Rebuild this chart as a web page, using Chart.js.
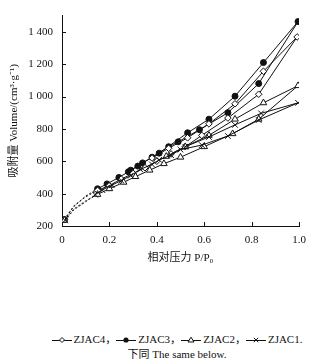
<!DOCTYPE html>
<html>
<head>
<meta charset="utf-8">
<script src="https://cdn.jsdelivr.net/npm/chart.js@4"></script>
<style>
  body { margin: 0; background: #fff; width: 320px; height: 363px; position: relative; overflow: hidden; }
  #wrap { position: absolute; left: 0; top: 0; width: 320px; height: 268px; }
  .note { position: absolute; left: 0; width: 354px; text-align: center; color: #111;
    font-family: "Liberation Serif", "Noto Sans CJK SC", serif; font-size: 11px; white-space: nowrap; }
  .note svg { vertical-align: -1px; margin-right: 2px; }
</style>
</head>
<body>
<div id="wrap"><canvas id="chartIso"></canvas></div>
<div class="note" id="legend" style="top:330px;"></div>
<div class="note" style="top:345px;">下同 The same below.</div>
<script>
// axis ticks
const xTicks = [0, 0.2, 0.4, 0.6, 0.8, 1.0];
const yTicks = [200, 400, 600, 800, 1000, 1200, 1400];

// ZJAC4 (open diamonds)
const zjac4AdsP = [0.01, 0.05, 0.10, 0.15, 0.20, 0.25, 0.30, 0.35, 0.40, 0.46, 0.52, 0.59, 0.70, 0.83, 0.992];
const zjac4AdsV = [240, 325, 380, 420, 450, 490, 525, 560, 600, 645, 690, 760, 867, 1014, 1368];
const zjac4DesP = [0.85, 0.73, 0.62, 0.53, 0.45, 0.38];
const zjac4DesV = [1156, 955, 831, 745, 680, 620];

// ZJAC3 (filled circles)
const zjac3AdsP = [0.01, 0.05, 0.10, 0.15, 0.19, 0.24, 0.28, 0.32, 0.38, 0.45, 0.49, 0.58, 0.70, 0.83, 0.996];
const zjac3AdsV = [240, 320, 385, 430, 460, 500, 535, 570, 625, 690, 720, 795, 900, 1080, 1463];
const zjac3DesP = [0.85, 0.73, 0.62, 0.53, 0.41, 0.34, 0.29];
const zjac3DesV = [1210, 1002, 860, 776, 650, 590, 545];

// ZJAC2 (open triangles)
const zjac2AdsP = [0.01, 0.05, 0.10, 0.15, 0.20, 0.26, 0.31, 0.37, 0.43, 0.50, 0.60, 0.72, 0.83, 0.996];
const zjac2AdsV = [235, 305, 355, 395, 430, 470, 505, 545, 585, 625, 690, 770, 860, 1067];
const zjac2DesP = [0.85, 0.73, 0.62, 0.52, 0.44];
const zjac2DesV = [961, 860, 760, 690, 630];

// ZJAC1 (crosses)
const zjac1AdsP = [0.013, 0.05, 0.10, 0.14, 0.17, 0.21, 0.25, 0.29, 0.33, 0.38, 0.41, 0.46, 0.50, 0.59, 0.70, 0.83, 0.996];
const zjac1AdsV = [235, 300, 350, 393, 422, 452, 481, 511, 550, 580, 609, 638, 672, 700, 756, 855, 961];
const zjac1DesP = [0.84, 0.73, 0.62, 0.52];
const zjac1DesV = [896, 825, 750, 690];

// legend order as printed under the figure
const legendNames = ["ZJAC4", "ZJAC3", "ZJAC2", "ZJAC1"];

const FONT = "'Liberation Serif', 'Noto Sans CJK SC', serif";

function loop(adsP, adsV, desP, desV) {
  let pts = [];
  adsP.forEach((p, i) => pts.push({ x: p, y: adsV[i] }));
  desP.forEach((p, i) => pts.push({ x: p, y: desV[i] }));
  return pts;
}

function makeSet(label, pts, style, fill, r) {
  return {
    label: label,
    data: pts,
    showLine: true,
    borderColor: "#111",
    borderWidth: 1,
    pointStyle: style,
    pointBackgroundColor: fill,
    pointBorderColor: "#111",
    pointBorderWidth: 1,
    pointRadius: (ctx) => {
      const p = ctx.raw;
      if (p && p.x > 0.02 && p.x < 0.13) return 0;
      return r;
    },
    segment: {
      borderDash: (ctx) => (ctx.p0.parsed.x < 0.13 ? [2, 2] : undefined),
    },
  };
}

// small key drawings for the printed legend line
const keyMarks = {
  ZJAC4: '<path d="M10 1.5 L12.5 4 L10 6.5 L7.5 4 Z" fill="#fff" stroke="#111"/>',
  ZJAC3: '<circle cx="10" cy="4" r="2.6" fill="#111"/>',
  ZJAC2: '<path d="M10 1.2 L13 6 L7 6 Z" fill="#fff" stroke="#111"/>',
  ZJAC1: '<path d="M7.8 1.8 L12.2 6.2 M12.2 1.8 L7.8 6.2" stroke="#111"/>',
};
const legendEl = document.getElementById("legend");
legendEl.innerHTML = legendNames
  .map((name, i) => {
    const sep = i < legendNames.length - 1 ? "，" : ".";
    return (
      '<svg width="20" height="8"><line x1="0" y1="4.5" x2="20" y2="4.5" stroke="#111"/>' +
      keyMarks[name] + "</svg>" + name + sep
    );
  })
  .join("");

const inwardTicks = {
  id: "inwardTicks",
  afterDraw: (chart) => {
    const { ctx, chartArea, scales } = chart;
    ctx.save();
    ctx.strokeStyle = "#111";
    ctx.lineWidth = 1;
    ctx.beginPath();
    scales.x.ticks.forEach((t) => {
      const px = Math.round(scales.x.getPixelForValue(t.value)) + 0.5;
      ctx.moveTo(px, chartArea.bottom);
      ctx.lineTo(px, chartArea.bottom - 4);
    });
    scales.y.ticks.forEach((t) => {
      const py = Math.round(scales.y.getPixelForValue(t.value)) + 0.5;
      ctx.moveTo(chartArea.left, py);
      ctx.lineTo(chartArea.left + 4, py);
    });
    ctx.stroke();
    ctx.restore();
  },
};

const ctx = document.getElementById("chartIso");
new Chart(ctx, {
  type: "scatter",
  data: {
    datasets: [
      makeSet("ZJAC1", loop(zjac1AdsP, zjac1AdsV, zjac1DesP, zjac1DesV), "crossRot", "#fff", 4),
      makeSet("ZJAC2", loop(zjac2AdsP, zjac2AdsV, zjac2DesP, zjac2DesV), "triangle", "#fff", 3.8),
      makeSet("ZJAC4", loop(zjac4AdsP, zjac4AdsV, zjac4DesP, zjac4DesV), "rectRot", "#fff", 3.3),
      makeSet("ZJAC3", loop(zjac3AdsP, zjac3AdsV, zjac3DesP, zjac3DesV), "circle", "#111", 3),
    ],
  },
  options: {
    responsive: true,
    maintainAspectRatio: false,
    animation: false,
    layout: { padding: { top: 6, right: 21, bottom: 0, left: 0 } },
    plugins: {
      legend: { display: false },
      tooltip: { enabled: false },
    },
    scales: {
      x: {
        type: "linear",
        min: 0,
        max: 1.0,
        afterBuildTicks: (scale) => {
          scale.ticks = xTicks.map((v) => ({ value: v }));
        },
        afterFit: (scale) => {
          scale.height = 42;
        },
        grid: { drawOnChartArea: false, drawTicks: false },
        border: { display: true, color: "#111", width: 1 },
        ticks: {
          color: "#111",
          padding: 8,
          font: { family: FONT, size: 11 },
          callback: (v) => (v === 0 ? "0" : Number(v).toFixed(1)),
        },
        title: {
          display: true,
          text: "相对压力 P/P₀",
          color: "#111",
          font: { family: FONT, size: 11 },
          padding: { top: 0, bottom: 3 },
        },
      },
      y: {
        type: "linear",
        min: 200,
        max: 1500,
        afterBuildTicks: (scale) => {
          scale.ticks = yTicks.map((v) => ({ value: v }));
        },
        afterFit: (scale) => {
          scale.width = 62;
        },
        grid: { drawOnChartArea: false, drawTicks: false },
        border: { display: true, color: "#111", width: 1 },
        ticks: {
          color: "#111",
          padding: 9,
          font: { family: FONT, size: 11 },
          callback: (v) => {
            let s = String(v);
            if (v >= 1000) {
              s = s.slice(0, s.length - 3) + " " + s.slice(s.length - 3);
            }
            return s;
          },
        },
        title: {
          display: true,
          text: "吸附量 Volume/(cm³·g⁻¹)",
          color: "#111",
          font: { family: FONT, size: 11 },
          padding: { top: 8, bottom: 0 },
        },
      },
    },
  },
  plugins: [inwardTicks],
});
</script>
</body>
</html>
